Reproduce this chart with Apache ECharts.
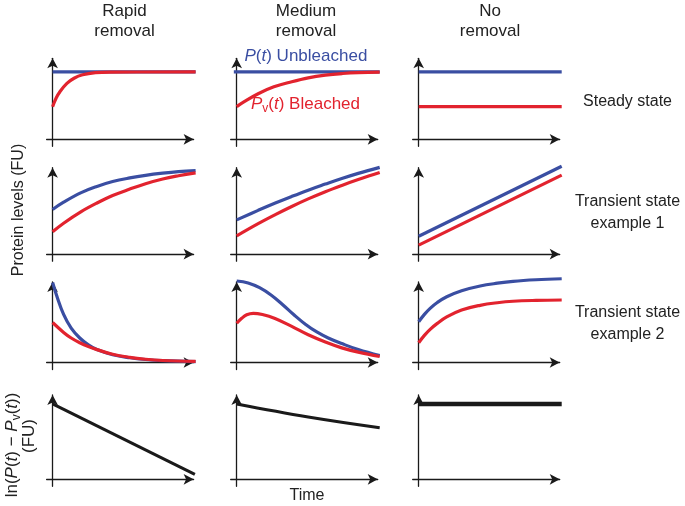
<!DOCTYPE html>
<html><head><meta charset="utf-8">
<script src="https://cdn.jsdelivr.net/npm/echarts@6/dist/echarts.min.js"></script>
<style>html,body{margin:0;padding:0;background:#fff}#c{width:685px;height:506px}</style>
</head><body><div id="c"></div>
<script>
// ---- data (time, level) ----
const colTitles = [['Rapid','removal'],['Medium','removal'],['No','removal']];
const rowTitles = [['Steady state'],['Transient state','example 1'],['Transient state','example 2'],[]];

const r1c1Blue = [[0,7.83],[10,7.83]];
const r1c1Red  = [[0,3.79],[0.25,4.8],[0.5,5.5],[1,6.5],[1.5,7.1],[2.1,7.5],[3,7.75],[4,7.82],[10,7.83]];
const r1c2Blue = [[-0.2,7.83],[10,7.83]];
const r1c2Red  = [[0,3.8],[0.5,4.35],[1.5,5.3],[2.6,6.1],[3.85,6.7],[5,7.15],[6.2,7.46],[7.4,7.65],[8.5,7.75],[10,7.8]];
const r1c3Blue = [[0,7.83],[10,7.83]];
const r1c3Red  = [[0,3.79],[10,3.79]];

const r2c1Blue = [[0,5.2],[0.77,6.05],[2,7.16],[3.1,7.88],[4.2,8.45],[5.4,8.87],[6.5,9.17],[7.7,9.42],[8.8,9.6],[10,9.72]];
const r2c1Red  = [[0,2.6],[0.77,3.6],[2,4.95],[3.1,5.95],[4.2,6.82],[5.4,7.57],[6.5,8.2],[7.7,8.75],[8.8,9.12],[10,9.45]];
const r2c2Blue = [[0,3.99],[1.5,5.1],[2.7,5.95],[3.85,6.72],[5,7.45],[6.2,8.15],[7.35,8.8],[8.5,9.4],[10,10.1]];
const r2c2Red  = [[0,2.13],[1.5,3.55],[2.7,4.6],[3.85,5.55],[5,6.43],[6.2,7.27],[7.35,8.0],[8.5,8.68],[10,9.5]];
const r2c3Blue = [[0,2.09],[10,10.23]];
const r2c3Red  = [[0,1.05],[10,9.19]];

const r3c1Blue = [[0,9.3],[0.3,7.7],[0.77,5.6],[1.3,4.0],[1.9,2.85],[2.5,2.05],[3.1,1.5],[4.2,0.9],[5.4,0.55],[6.5,0.35],[7.7,0.22],[10,0.1]];
const r3c1Red  = [[0,4.65],[0.77,3.5],[1.3,2.85],[1.9,2.3],[2.5,1.85],[3.1,1.5],[4.2,0.96],[5.4,0.6],[6.5,0.38],[7.7,0.23],[10,0.12]];
const r3c2Blue = [[0,9.48],[0.8,9.25],[1.6,8.7],[2.4,7.85],[3.2,6.75],[4.0,5.55],[4.8,4.45],[5.6,3.55],[6.4,2.85],[7.35,2.2],[8.5,1.5],[10,0.8]];
const r3c2Red  = [[0,4.56],[0.35,5.14],[0.7,5.55],[1.16,5.72],[1.8,5.58],[2.68,5.12],[3.85,4.2],[5,3.22],[6.2,2.38],[7.35,1.7],[8.5,1.2],[10,0.7]];
const r3c3Blue = [[0,4.74],[0.4,5.6],[0.8,6.3],[1.3,6.98],[1.96,7.65],[3,8.35],[4.3,8.9],[5.5,9.22],[6.6,9.44],[8.2,9.62],[10,9.74]];
const r3c3Red  = [[0,2.3],[0.4,3.15],[0.8,3.85],[1.3,4.55],[1.96,5.3],[3,6.1],[4.3,6.65],[5.5,6.95],[6.6,7.12],[8.2,7.22],[10,7.27]];

const r4c1Log = [[0,8.76],[9.95,0.58]];
const r4c2Log = [[0,8.76],[5,7.25],[10,6.0]];
const r4c3Log = [[0,8.76],[10,8.76]];

const panels = [
  [[r1c1Blue,r1c1Red],[r1c2Blue,r1c2Red],[r1c3Blue,r1c3Red]],
  [[r2c1Blue,r2c1Red],[r2c2Blue,r2c2Red],[r2c3Blue,r2c3Red]],
  [[r3c1Blue,r3c1Red],[r3c2Blue,r3c2Red],[r3c3Blue,r3c3Red]],
  [[r4c1Log],[r4c2Log],[r4c3Log]]
];

// ---- layout ----
const BLUE = '#3a4ea2', RED = '#e2232e', INK = '#1a1a1a', TXT = '#222';
const FONT = '"Liberation Sans", Arial, Helvetica, sans-serif';
const rowTip = [53.3, 162.7, 277, 390];
const rowAxis = [139.3, 254.2, 362.5, 479.3];
const colAxis = [52.6, 236.7, 418.7];
const PXX = 14.3, PXY = 8.6, SPAN = 146, AH = 10, OX = 6, OY = 7;

const grids = [], xAxes = [], yAxes = [], series = [];
for (let r = 0; r < 4; r++) {
  for (let c = 0; c < 3; c++) {
    const gi = grids.length;
    const cx = colAxis[c];
    grids.push({left: cx - OX, top: rowTip[r] + AH/2, width: SPAN - AH/2 + OX,
                height: rowAxis[r] + OY - rowTip[r] - AH/2});
    const axisLine = {show: true, onZero: true, symbol: ['none','arrow'], symbolSize: [8, AH],
                      lineStyle: {color: INK, width: 1.3}};
    xAxes.push({type: 'value', gridIndex: gi, min: -OX/PXX, max: (SPAN - AH/2)/PXX,
                axisLine, axisTick: {show: false}, axisLabel: {show: false}, splitLine: {show: false}});
    yAxes.push({type: 'value', gridIndex: gi, min: -OY/PXY, max: (rowAxis[r] - rowTip[r] - AH/2)/PXY,
                axisLine, axisTick: {show: false}, axisLabel: {show: false}, splitLine: {show: false}});
    const sets = panels[r][c];
    sets.forEach((d, k) => {
      const color = r === 3 ? INK : (k === 0 ? BLUE : RED);
      const w = (r === 3 && c === 2) ? 4.5 : (r === 3 ? 3 : 3.2);
      series.push({type: 'line', xAxisIndex: gi, yAxisIndex: gi, data: d, smooth: 0.4,
                   symbol: 'none', clip: false, lineStyle: {color, width: w}, z: 3 + k});
    });
  }
}

const graphic = [];
function txt(x, y, text, opts) {
  graphic.push(Object.assign({type: 'text', x, y, style: Object.assign({
    text, fill: TXT, fontSize: 16, fontFamily: FONT,
    align: 'center', verticalAlign: 'middle', textAlign: 'center', textVerticalAlign: 'middle'
  }, opts && opts.style || {})}, opts && opts.el || {}));
}
const colCenters = [124.5, 306, 490];
colTitles.forEach((t, c) => { txt(colCenters[c], 11.5, t[0], {style:{fontSize:17}}); txt(colCenters[c], 31.5, t[1], {style:{fontSize:17}}); });
const rowLabelY = [[102], [202, 223.5], [313, 335]];
rowTitles.forEach((t, r) => t.forEach((s, i) => txt(627.5, rowLabelY[r][i], s)));
txt(307, 496, 'Time');

function rich(color, size) {
  const base = {fill: color, fontSize: size, fontFamily: FONT};
  return {
    n: Object.assign({}, base),
    i: Object.assign({fontStyle: 'italic'}, base),
    s: Object.assign({}, base, {fontSize: size - 5, padding: [9, 0, 0, 0]})
  };
}
txt(244.5, 56.5, '{i|P}{n|(}{i|t}{n|) Unbleached}', {style: {align: 'left', textAlign: 'left', fill: BLUE, fontSize: 17, rich: rich(BLUE, 17)}});
txt(251, 104, '{i|P}{s|v}{n|(}{i|t}{n|) Bleached}', {style: {align: 'left', textAlign: 'left', fill: RED, fontSize: 17, rich: rich(RED, 17)}});
txt(18.5, 210, 'Protein levels (FU)', {el: {rotation: Math.PI/2}});
txt(12, 445, '{n|ln(}{i|P}{n|(}{i|t}{n|) − }{i|P}{s|v}{n|(}{i|t}{n|))}', {el: {rotation: Math.PI/2}, style: {rich: rich(TXT, 17)}});
txt(29, 436, '(FU)', {el: {rotation: Math.PI/2}, style: {fontSize: 17}});

const chart = echarts.init(document.getElementById('c'), null, {renderer: 'canvas'});
chart.setOption({animation: false, grid: grids, xAxis: xAxes, yAxis: yAxes, series, graphic});
</script></body></html>
